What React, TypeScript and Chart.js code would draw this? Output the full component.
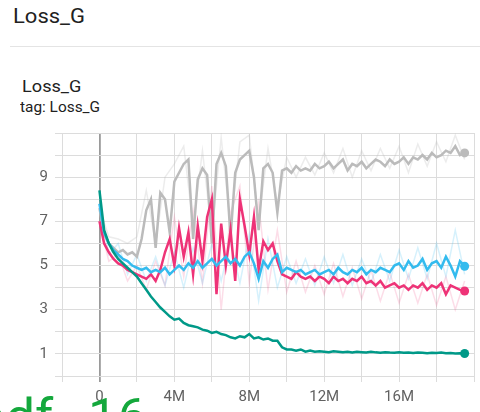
import React, { useEffect, useRef } from "react";
import { Chart, registerables } from "chart.js";

Chart.register(...registerables);

// training steps (millions) for smoothed curves
const steps = [
  0, 0.25, 0.5, 0.75, 1, 1.25, 1.5, 1.75, 2, 2.25, 2.5, 2.75, 3, 3.25, 3.5, 3.75,
  4, 4.25, 4.5, 4.75, 5, 5.25, 5.5, 5.75, 6, 6.25, 6.5, 6.75, 7, 7.25, 7.5, 7.75,
  8, 8.25, 8.5, 8.75, 9, 9.25, 9.5, 9.75, 10, 10.25, 10.5, 10.75, 11, 11.25, 11.5, 11.75,
  12, 12.25, 12.5, 12.75, 13, 13.25, 13.5, 13.75, 14, 14.25, 14.5, 14.75, 15, 15.25, 15.5, 15.75,
  16, 16.25, 16.5, 16.75, 17, 17.25, 17.5, 17.75, 18, 18.25, 18.5, 18.75, 19, 19.25, 19.5,
];

const graySmooth = [
  7.6, 6.4, 6.0, 5.8, 5.6, 5.7, 5.5, 5.6, 5.4, 6.2, 7.5, 8.0, 5.8, 8.3, 8.0, 6.5,
  8.8, 9.2, 9.6, 9.8, 6.2, 8.9, 9.4, 9.1, 6.0, 9.6, 10.1, 9.5, 6.3, 9.2, 9.8, 10.0,
  10.2, 9.0, 6.6, 9.4, 9.6, 9.2, 7.4, 9.3, 9.4, 9.2, 9.5, 9.3, 9.4, 9.3, 9.6, 9.4,
  9.5, 9.7, 9.4, 9.6, 9.8, 9.3, 9.6, 9.5, 9.7, 9.4, 9.6, 9.8, 9.7, 9.5, 9.8, 9.6,
  9.7, 9.9, 9.6, 9.9, 9.8, 10.0, 9.8, 10.1, 9.9, 10.0, 10.2, 10.1, 10.4, 10.0, 10.1,
];

const pinkSmooth = [
  7.0, 6.0, 5.6, 5.3, 5.1, 5.0, 4.8, 4.7, 4.6, 4.5, 4.4, 4.6, 4.3, 4.8, 5.6, 6.2,
  5.0, 6.7, 5.4, 6.5, 4.6, 6.8, 5.2, 7.2, 8.0, 3.7, 6.9, 5.0, 6.6, 4.3, 8.0, 6.8,
  5.5, 7.2, 4.8, 6.1, 5.7, 6.0, 5.2, 4.6, 4.5, 4.4, 4.7, 4.5, 4.4, 4.5, 4.3, 4.5,
  4.4, 4.2, 4.5, 4.3, 4.4, 4.2, 4.4, 4.3, 4.5, 4.2, 4.3, 4.1, 4.3, 4.0, 4.1, 4.2,
  4.0, 4.1, 3.9, 4.1, 4.0, 4.2, 3.9, 4.1, 4.0, 4.2, 3.7, 4.1, 4.0, 3.9, 3.85,
];

const cyanSmooth = [
  7.8, 6.5, 6.0, 5.7, 5.5, 5.3, 5.2, 5.0, 4.9, 4.8, 4.9, 4.7, 4.8, 4.7, 4.9, 4.6,
  4.8, 5.0, 4.8, 5.1, 4.9, 5.2, 4.9, 5.1, 5.3, 5.0, 5.2, 5.4, 5.1, 5.3, 5.0, 5.4,
  5.6, 5.1, 4.4, 5.2, 4.9, 5.3, 5.5, 4.7, 4.9, 4.8, 4.7, 4.8, 4.6, 4.7, 4.8, 4.6,
  4.7, 4.8, 4.6, 4.9, 4.7, 4.6, 4.8, 4.7, 4.9, 4.6, 4.8, 4.7, 4.9, 4.8, 4.7, 5.0,
  5.1, 4.8, 5.2, 4.9, 5.0, 5.3, 4.8, 5.1, 5.2, 4.9, 5.4, 5.0, 4.5, 5.2, 4.97,
];

const tealSmooth = [
  8.4, 6.6, 6.0, 5.6, 5.3, 5.1, 4.9, 4.7, 4.5, 4.2, 3.9, 3.6, 3.35, 3.1, 2.9, 2.7,
  2.55, 2.6, 2.4, 2.3, 2.25, 2.2, 2.1, 2.05, 1.95, 2.0, 1.9, 1.85, 1.75, 1.7, 1.8, 1.75,
  1.9, 1.7, 1.75, 1.65, 1.7, 1.6, 1.6, 1.3, 1.2, 1.2, 1.15, 1.2, 1.1, 1.15, 1.1, 1.12,
  1.1, 1.08, 1.12, 1.1, 1.08, 1.1, 1.07, 1.1, 1.08, 1.06, 1.1, 1.07, 1.05, 1.08, 1.06, 1.05,
  1.07, 1.05, 1.06, 1.04, 1.06, 1.05, 1.03, 1.05, 1.04, 1.06, 1.03, 1.04, 1.02, 1.03, 1.02,
];

// raw (unsmoothed) values, sampled every 0.5M
const rawSteps = [
  0, 0.5, 1, 1.5, 2, 2.5, 3, 3.5, 4, 4.5, 5, 5.5, 6, 6.5, 7, 7.5, 8, 8.5, 9, 9.5,
  10, 10.5, 11, 11.5, 12, 12.5, 13, 13.5, 14, 14.5, 15, 15.5, 16, 16.5, 17, 17.5, 18, 18.5, 19, 19.5,
];
const grayRaw = [
  7.6, 6.3, 6.2, 6.0, 6.3, 8.4, 6.0, 9.0, 9.6, 10.4, 6.8, 10.2, 6.4, 10.8, 6.8, 10.6, 10.9, 7.0, 10.3, 7.8,
  9.9, 9.0, 9.9, 9.1, 10.1, 9.2, 10.3, 9.0, 10.2, 9.3, 10.3, 9.4, 10.4, 9.2, 10.5, 9.5, 10.6, 9.7, 10.9, 9.8,
];
const pinkRaw = [
  7.0, 5.2, 5.5, 4.3, 5.0, 3.9, 5.2, 4.1, 7.2, 4.5, 7.5, 4.2, 8.6, 3.0, 7.4, 8.6, 4.2, 7.8, 3.9, 6.6,
  3.8, 5.2, 3.8, 5.0, 3.7, 5.1, 3.6, 4.9, 3.5, 4.8, 3.4, 4.7, 3.3, 4.6, 3.3, 4.6, 3.2, 4.5, 3.0, 4.3,
];
const cyanRaw = [
  7.8, 5.5, 6.0, 4.6, 5.5, 4.3, 5.4, 4.1, 5.6, 4.0, 5.8, 4.2, 6.0, 4.3, 6.1, 4.2, 6.4, 3.4, 6.2, 4.0,
  5.4, 4.2, 5.3, 4.1, 5.4, 4.2, 5.5, 4.1, 5.3, 4.2, 5.5, 4.3, 5.7, 4.4, 5.8, 4.4, 6.0, 4.5, 6.6, 4.6,
];

const xTickLabels = ["0", "4M", "8M", "12M", "16M"];
const yTickLabels = ["1", "3", "5", "7", "9"];

const GRAY = "#bbbbbb";
const PINK = "#ee3377";
const CYAN = "#33bbee";
const TEAL = "#009988";

function pts(xs: number[], ys: number[]) {
  return ys.map((y, i) => ({ x: xs[i] * 1e6, y }));
}

export default function App() {
  const ref = useRef<HTMLCanvasElement | null>(null);

  useEffect(() => {
    if (!ref.current) return;
    const endRadius = (len: number) => (ctx: any) => (ctx.dataIndex === len - 1 ? 4.5 : 0);
    const smooth = (label: string, ys: number[], color: string, order: number) => ({
      label,
      data: pts(steps, ys),
      borderColor: color,
      backgroundColor: color,
      borderWidth: 2.5,
      pointRadius: endRadius(ys.length),
      pointBorderWidth: 0,
      pointHoverRadius: 0,
      tension: 0,
      order,
    });
    const raw = (label: string, ys: number[], color: string, order: number) => ({
      label,
      data: pts(rawSteps, ys),
      borderColor: color,
      borderWidth: 1.5,
      pointRadius: 0,
      tension: 0,
      order,
    });

    const chart = new Chart(ref.current, {
      type: "line",
      data: {
        datasets: [
          smooth("teal", tealSmooth, TEAL, 1),
          smooth("cyan", cyanSmooth, CYAN, 2),
          smooth("pink", pinkSmooth, PINK, 3),
          smooth("gray", graySmooth, GRAY, 4),
          raw("cyanRaw", cyanRaw, "rgba(51,187,238,0.2)", 5),
          raw("pinkRaw", pinkRaw, "rgba(238,51,119,0.17)", 6),
          raw("grayRaw", grayRaw, "rgba(187,187,187,0.28)", 7),
        ] as any,
      },
      options: {
        responsive: false,
        animation: false,
        events: [],
        layout: { padding: { left: 0, right: 3, top: 133, bottom: 0 } },
        plugins: { legend: { display: false }, tooltip: { enabled: false } },
        scales: {
          x: {
            type: "linear",
            min: -2e6,
            max: 20e6,
            afterFit: (s: any) => {
              s.height = 36;
            },
            border: { color: "#dcdcdc" },
            grid: {
              color: (c: any) => (c.tick && c.tick.value === 0 ? "#9a9a9a" : "#dcdcdc"),
              lineWidth: (c: any) => (c.tick && c.tick.value === 0 ? 1.8 : 1),
              tickLength: 6,
            },
            ticks: {
              stepSize: 2e6,
              autoSkip: false,
              maxRotation: 0,
              padding: 6,
              color: "#616161",
              font: { family: "Roboto", size: 15 },
              callback: (v: any) => {
                const n = Number(v);
                const idx = n / 4e6;
                return Number.isInteger(idx) && idx >= 0 && idx < xTickLabels.length ? xTickLabels[idx] : "";
              },
            },
          },
          y: {
            min: 0,
            max: 11,
            afterFit: (s: any) => {
              s.width = 62;
            },
            border: { color: "#dcdcdc" },
            grid: { color: "#dcdcdc", tickLength: 7 },
            ticks: {
              stepSize: 1,
              autoSkip: false,
              padding: 7,
              color: "#616161",
              font: { family: "Roboto", size: 15 },
              callback: (v: any) => {
                const s = String(v);
                return yTickLabels.includes(s) ? s : "";
              },
            },
          },
        },
      },
    });
    return () => chart.destroy();
  }, []);

  const text = (top: number, left: number, size: number, color: string, content: string, extra: any = {}) => (
    <div
      style={{
        position: "absolute",
        top,
        left,
        fontFamily: "Roboto",
        fontSize: size,
        lineHeight: 1,
        color,
        whiteSpace: "nowrap",
        transform: "scaleX(1.1)",
        transformOrigin: "left top",
        ...extra,
      }}
    >
      {content}
    </div>
  );

  return (
    <div
      style={{
        position: "fixed",
        left: 0,
        top: 0,
        width: 480,
        height: 412,
        overflow: "hidden",
        background: "#ffffff",
      }}
    >
      {text(6, 13, 20, "#212121", "Loss_G")}
      <div style={{ position: "absolute", left: 10, top: 46, width: 470, height: 1, background: "#e4e4e4" }} />
      {text(79, 22, 16.5, "#212121", "Loss_G")}
      {text(100, 20, 14, "#212121", "tag: Loss_G")}
      <canvas ref={ref} width={480} height={412} style={{ position: "absolute", left: 0, top: 0 }} />
      {text(392, -24, 50, "#14a83c", "pdf_", { transform: "scaleX(1.05)" })}
      {text(392, 88, 50, "#14a83c", "16", { transform: "scaleX(1.05)" })}
    </div>
  );
}
